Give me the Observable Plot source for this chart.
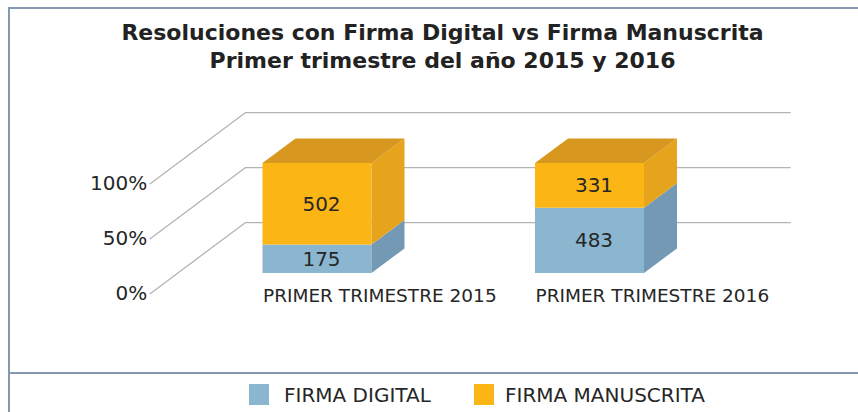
<!DOCTYPE html>
<html>
<head>
<meta charset="utf-8">
<script src="https://cdn.jsdelivr.net/npm/d3@7"></script>
<script src="https://cdn.jsdelivr.net/npm/@observablehq/plot@0.6"></script>
<style>
  html, body { margin: 0; padding: 0; background: #fff; }
  #chart { position: relative; width: 858px; height: 412px; overflow: hidden; font-family: "DejaVu Sans", Verdana, sans-serif; color: #262626; }
  #frame { position: absolute; left: 8px; top: 7px; right: -20px; bottom: -20px; border-left: 2px solid #8598b2; border-top: 2px solid #8598b2; }
  #sep { position: absolute; left: 9px; right: 0; top: 372px; height: 2px; background: #8598b2; }
  #plot { position: absolute; left: 0; top: 0; }
  #title { position: absolute; left: 0; width: 885px; top: 19px; text-align: center; font-weight: bold; font-size: 22px; line-height: 27.6px; color: #222; white-space: nowrap; }
  .sw { position: absolute; top: 384px; width: 20px; height: 21px; }
  .lt { position: absolute; top: 383px; font-size: 20px; line-height: 24px; color: #262626; white-space: nowrap; }
</style>
</head>
<body>
<div id="chart">
  <div id="frame"></div>
  <div id="sep"></div>
  <div id="plot"></div>
  <div id="title">Resoluciones con Firma Digital vs Firma Manuscrita<br>Primer trimestre del año 2015 y 2016</div>
  <div id="legend"></div>
</div>
<script>
// ---- data ----
const categories = ["PRIMER TRIMESTRE 2015", "PRIMER TRIMESTRE 2016"];
const seriesNames = ["FIRMA DIGITAL", "FIRMA MANUSCRITA"];
const firmaDigital = [175, 483];
const firmaManuscrita = [502, 331];
const tickValues = [0, 0.5, 1];
const tickLabels = ["0%", "50%", "100%"];

// ---- style ----
const FRONT_COLORS = ["#8ab6d0", "#fbb514"];
const SIDE_COLORS = ["#7399b4", "#e6a41c"];
const TOP_COLOR = "#d8971f";
const GRID_COLOR = "#b4b4b4";
const HALF = 0.2;               // half bar width (x units)
const OX = 0.349, OY = 0.645;   // full floor depth vector in data units
const Z_FRONT = -0.284, Z_BAR = 0.347, Z_BACK = 0.716;
const WALL_L = -0.515, WALL_R = 1.485;

// ---- derived ----
const values = [firmaDigital, firmaManuscrita];
const segments = [];
categories.forEach((c, i) => {
  const total = d3.sum(values, v => v[i]);
  let acc = 0;
  values.forEach((v, s) => {
    const y1 = acc / total;
    acc += v[i];
    segments.push({cat: c, i, s, value: v[i], y1, y2: acc / total});
  });
});

const gridData = tickValues.flatMap((t, k) => [
  {k, x: WALL_L + Z_FRONT * OX, y: t + Z_FRONT * OY},
  {k, x: WALL_L + Z_BACK * OX, y: t + Z_BACK * OY},
  {k, x: WALL_R + Z_BACK * OX, y: t + Z_BACK * OY}
]);

const sideData = segments.flatMap((d, j) => [
  {id: j, s: d.s, x: d.i + HALF, y1: d.y1, y2: d.y2},
  {id: j, s: d.s, x: d.i + HALF + Z_BAR * OX, y1: d.y1 + Z_BAR * OY, y2: d.y2 + Z_BAR * OY}
]);

const topData = categories.flatMap((c, i) => [
  {i, y: 1, x1: i - HALF, x2: i + HALF},
  {i, y: 1 + Z_BAR * OY, x1: i - HALF + Z_BAR * OX, x2: i + HALF + Z_BAR * OX}
]);

const chart = Plot.plot({
  width: 858,
  height: 412,
  x: {type: "linear", domain: [-0.5, 1.5], range: [180.75, 725.75], axis: null},
  y: {type: "linear", domain: [0, 1], range: [273, 163], axis: null},
  style: {fontFamily: "'DejaVu Sans', Verdana, sans-serif", background: "transparent"},
  marks: [
    Plot.line(gridData, {x: "x", y: "y", z: "k", stroke: GRID_COLOR, strokeWidth: 1.3}),
    ...seriesNames.map((n, s) => Plot.rect(segments.filter(d => d.s === s), {
      x1: d => d.i - HALF, x2: d => d.i + HALF, y1: "y1", y2: "y2", fill: FRONT_COLORS[s]
    })),
    ...seriesNames.map((n, s) => Plot.area(sideData.filter(d => d.s === s), {
      x1: "x", y1: "y1", y2: "y2", z: "id", fill: SIDE_COLORS[s]
    })),
    Plot.area(topData, {y1: "y", x1: "x1", x2: "x2", z: "i", fill: TOP_COLOR}),
    Plot.text(segments, {
      x: "i", y: d => (d.y1 + d.y2) / 2, text: d => String(d.value),
      dx: 4, fontSize: 20, fill: "#262626"
    }),
    Plot.text(tickValues, {
      x: () => WALL_L + Z_FRONT * OX, y: d => d + Z_FRONT * OY,
      text: (d, k) => tickLabels[k], textAnchor: "end", dx: -3, fontSize: 20, fill: "#262626"
    }),
    Plot.text(categories, {
      x: (d, i) => i - HALF, y: () => 0, dy: 23, text: d => d,
      textAnchor: "start", fontSize: 18.5, fill: "#262626"
    })
  ]
});
document.getElementById("plot").appendChild(chart);

// legend
const legend = document.getElementById("legend");
const swX = [249, 474], txX = [284, 505];
seriesNames.forEach((n, s) => {
  const sw = document.createElement("div");
  sw.className = "sw"; sw.style.left = swX[s] + "px"; sw.style.background = FRONT_COLORS[s];
  const t = document.createElement("div");
  t.className = "lt"; t.style.left = txX[s] + "px"; t.textContent = n;
  legend.appendChild(sw); legend.appendChild(t);
});
</script>
</body>
</html>
